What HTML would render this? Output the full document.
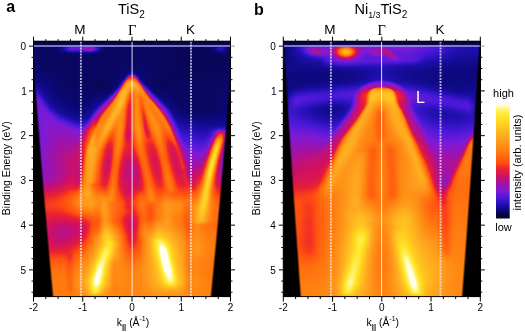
<!DOCTYPE html>
<html><head><meta charset="utf-8"><style>
html,body{margin:0;padding:0;background:#fff;width:525px;height:332px;overflow:hidden}
#c,svg{position:absolute;left:0;top:0}
text{font-family:"Liberation Sans",sans-serif;fill:#000}
</style></head><body>
<svg width="525" height="332" viewBox="0 0 525 332"><defs><linearGradient id="fa" x1="0" y1="0" x2="0" y2="1"><stop offset="0" stop-color="#000"/><stop offset="0.018" stop-color="#000"/><stop offset="0.02" stop-color="#0a0870"/><stop offset="0.25" stop-color="#0c0a78"/><stop offset="0.4" stop-color="#3a18c0"/><stop offset="0.5" stop-color="#9a1ab0"/><stop offset="0.6" stop-color="#e02a40"/><stop offset="0.7" stop-color="#ff6a14"/><stop offset="1" stop-color="#ff8c18"/></linearGradient><linearGradient id="fb" x1="0" y1="0" x2="0" y2="1"><stop offset="0" stop-color="#000"/><stop offset="0.018" stop-color="#000"/><stop offset="0.025" stop-color="#6a1ad8"/><stop offset="0.1" stop-color="#3a14c0"/><stop offset="0.2" stop-color="#100a80"/><stop offset="0.3" stop-color="#3a18c8"/><stop offset="0.45" stop-color="#b01a90"/><stop offset="0.55" stop-color="#ff5a14"/><stop offset="1" stop-color="#ff9a20"/></linearGradient></defs><rect x="33.5" y="41" width="197.0" height="255.6" fill="url(#fa)"/><rect x="283.3" y="41" width="197.0" height="255.6" fill="url(#fb)"/><polygon points="132,75 80,195 194,195" fill="#ff7a14" opacity="0.8"/><polygon points="381.6,86 308,195 443,195" fill="#ff8a18" opacity="0.85"/><polygon points="33.5,85 33.5,296.6 52.7,296.6" fill="#000"/><polygon points="230.5,70 230.5,296.6 210.5,296.6" fill="#000"/><polygon points="283.3,60 283.3,296.6 300.5,296.6" fill="#000"/><polygon points="480.3,60 480.3,296.6 462.5,296.6" fill="#000"/></svg>
<canvas id="c" width="525" height="332"></canvas>
<svg width="525" height="332" viewBox="0 0 525 332"><defs><linearGradient id="cb" x1="0" y1="0" x2="0" y2="1"><stop offset="0.000" stop-color="rgb(255, 255, 240)"/><stop offset="0.025" stop-color="rgb(255, 250, 175)"/><stop offset="0.054" stop-color="rgb(255, 242, 100)"/><stop offset="0.122" stop-color="rgb(255, 226, 34)"/><stop offset="0.218" stop-color="rgb(255, 194, 32)"/><stop offset="0.313" stop-color="rgb(255, 160, 30)"/><stop offset="0.407" stop-color="rgb(255, 128, 16)"/><stop offset="0.471" stop-color="rgb(255, 98, 16)"/><stop offset="0.515" stop-color="rgb(255, 78, 16)"/><stop offset="0.568" stop-color="rgb(234, 34, 48)"/><stop offset="0.631" stop-color="rgb(208, 16, 98)"/><stop offset="0.694" stop-color="rgb(162, 18, 164)"/><stop offset="0.757" stop-color="rgb(126, 26, 214)"/><stop offset="0.821" stop-color="rgb(72, 24, 216)"/><stop offset="0.884" stop-color="rgb(30, 14, 172)"/><stop offset="0.931" stop-color="rgb(10, 8, 120)"/><stop offset="0.978" stop-color="rgb(8, 4, 48)"/><stop offset="1.000" stop-color="rgb(6, 3, 30)"/></linearGradient></defs>
<line x1="33.5" y1="46.0" x2="230.5" y2="46.0" stroke="#a49cdc" stroke-width="1.6"/>
<line x1="132.10" y1="41.2" x2="132.10" y2="296.6" stroke="#fff" stroke-opacity="0.85" stroke-width="1"/>
<line x1="80.90" y1="41.4" x2="80.90" y2="296.6" stroke="#f4f0ff" stroke-opacity="0.72" stroke-width="1.9" stroke-dasharray="2 1.04"/>
<line x1="191.00" y1="41.4" x2="191.00" y2="296.6" stroke="#f4f0ff" stroke-opacity="0.72" stroke-width="1.9" stroke-dasharray="2 1.04"/>
<text x="79.80" y="34.2" text-anchor="middle" font-size="13.5">M</text>
<text x="132.10" y="34.8" text-anchor="middle" font-size="14.5" style="font-family:'Liberation Serif',serif">&#915;</text>
<text x="190.40" y="34.2" text-anchor="middle" font-size="13.5">K</text>
<line x1="283.3" y1="46.0" x2="480.3" y2="46.0" stroke="#a49cdc" stroke-width="1.6"/>
<line x1="381.60" y1="41.2" x2="381.60" y2="296.6" stroke="#fff" stroke-opacity="0.85" stroke-width="1"/>
<line x1="330.90" y1="41.4" x2="330.90" y2="296.6" stroke="#f4f0ff" stroke-opacity="0.72" stroke-width="1.9" stroke-dasharray="2 1.04"/>
<line x1="440.50" y1="41.4" x2="440.50" y2="296.6" stroke="#f4f0ff" stroke-opacity="0.72" stroke-width="1.9" stroke-dasharray="2 1.04"/>
<text x="329.80" y="34.2" text-anchor="middle" font-size="13.5">M</text>
<text x="381.60" y="34.8" text-anchor="middle" font-size="14.5" style="font-family:'Liberation Serif',serif">&#915;</text>
<text x="439.90" y="34.2" text-anchor="middle" font-size="13.5">K</text>
<rect x="33.5" y="41.2" width="197.00" height="255.40" fill="none" stroke="#000" stroke-width="1"/>
<line x1="33.50" y1="41.2" x2="33.50" y2="36.7" stroke="#000" stroke-width="1"/>
<line x1="33.50" y1="296.6" x2="33.50" y2="301.6" stroke="#000" stroke-width="1"/>
<line x1="45.81" y1="41.2" x2="45.81" y2="39.2" stroke="#000" stroke-width="1"/>
<line x1="45.81" y1="296.6" x2="45.81" y2="299.1" stroke="#000" stroke-width="1"/>
<line x1="58.12" y1="41.2" x2="58.12" y2="39.2" stroke="#000" stroke-width="1"/>
<line x1="58.12" y1="296.6" x2="58.12" y2="299.1" stroke="#000" stroke-width="1"/>
<line x1="70.44" y1="41.2" x2="70.44" y2="39.2" stroke="#000" stroke-width="1"/>
<line x1="70.44" y1="296.6" x2="70.44" y2="299.1" stroke="#000" stroke-width="1"/>
<line x1="82.75" y1="41.2" x2="82.75" y2="36.7" stroke="#000" stroke-width="1"/>
<line x1="82.75" y1="296.6" x2="82.75" y2="301.6" stroke="#000" stroke-width="1"/>
<line x1="95.06" y1="41.2" x2="95.06" y2="39.2" stroke="#000" stroke-width="1"/>
<line x1="95.06" y1="296.6" x2="95.06" y2="299.1" stroke="#000" stroke-width="1"/>
<line x1="107.38" y1="41.2" x2="107.38" y2="39.2" stroke="#000" stroke-width="1"/>
<line x1="107.38" y1="296.6" x2="107.38" y2="299.1" stroke="#000" stroke-width="1"/>
<line x1="119.69" y1="41.2" x2="119.69" y2="39.2" stroke="#000" stroke-width="1"/>
<line x1="119.69" y1="296.6" x2="119.69" y2="299.1" stroke="#000" stroke-width="1"/>
<line x1="132.00" y1="41.2" x2="132.00" y2="36.7" stroke="#000" stroke-width="1"/>
<line x1="132.00" y1="296.6" x2="132.00" y2="301.6" stroke="#000" stroke-width="1"/>
<line x1="144.31" y1="41.2" x2="144.31" y2="39.2" stroke="#000" stroke-width="1"/>
<line x1="144.31" y1="296.6" x2="144.31" y2="299.1" stroke="#000" stroke-width="1"/>
<line x1="156.62" y1="41.2" x2="156.62" y2="39.2" stroke="#000" stroke-width="1"/>
<line x1="156.62" y1="296.6" x2="156.62" y2="299.1" stroke="#000" stroke-width="1"/>
<line x1="168.94" y1="41.2" x2="168.94" y2="39.2" stroke="#000" stroke-width="1"/>
<line x1="168.94" y1="296.6" x2="168.94" y2="299.1" stroke="#000" stroke-width="1"/>
<line x1="181.25" y1="41.2" x2="181.25" y2="36.7" stroke="#000" stroke-width="1"/>
<line x1="181.25" y1="296.6" x2="181.25" y2="301.6" stroke="#000" stroke-width="1"/>
<line x1="193.56" y1="41.2" x2="193.56" y2="39.2" stroke="#000" stroke-width="1"/>
<line x1="193.56" y1="296.6" x2="193.56" y2="299.1" stroke="#000" stroke-width="1"/>
<line x1="205.88" y1="41.2" x2="205.88" y2="39.2" stroke="#000" stroke-width="1"/>
<line x1="205.88" y1="296.6" x2="205.88" y2="299.1" stroke="#000" stroke-width="1"/>
<line x1="218.19" y1="41.2" x2="218.19" y2="39.2" stroke="#000" stroke-width="1"/>
<line x1="218.19" y1="296.6" x2="218.19" y2="299.1" stroke="#000" stroke-width="1"/>
<line x1="230.50" y1="41.2" x2="230.50" y2="36.7" stroke="#000" stroke-width="1"/>
<line x1="230.50" y1="296.6" x2="230.50" y2="301.6" stroke="#000" stroke-width="1"/>
<line x1="33.5" y1="46.15" x2="29.0" y2="46.15" stroke="#000" stroke-width="1"/>
<line x1="230.5" y1="46.15" x2="235.0" y2="46.15" stroke="#999" stroke-width="1"/>
<line x1="33.5" y1="57.34" x2="31.5" y2="57.34" stroke="#000" stroke-width="1"/>
<line x1="230.5" y1="57.34" x2="232.5" y2="57.34" stroke="#000" stroke-width="1"/>
<line x1="33.5" y1="68.53" x2="31.5" y2="68.53" stroke="#000" stroke-width="1"/>
<line x1="230.5" y1="68.53" x2="232.5" y2="68.53" stroke="#000" stroke-width="1"/>
<line x1="33.5" y1="79.71" x2="31.5" y2="79.71" stroke="#000" stroke-width="1"/>
<line x1="230.5" y1="79.71" x2="232.5" y2="79.71" stroke="#000" stroke-width="1"/>
<line x1="33.5" y1="90.90" x2="29.0" y2="90.90" stroke="#000" stroke-width="1"/>
<line x1="230.5" y1="90.90" x2="235.0" y2="90.90" stroke="#000" stroke-width="1"/>
<line x1="33.5" y1="102.09" x2="31.5" y2="102.09" stroke="#000" stroke-width="1"/>
<line x1="230.5" y1="102.09" x2="232.5" y2="102.09" stroke="#000" stroke-width="1"/>
<line x1="33.5" y1="113.28" x2="31.5" y2="113.28" stroke="#000" stroke-width="1"/>
<line x1="230.5" y1="113.28" x2="232.5" y2="113.28" stroke="#000" stroke-width="1"/>
<line x1="33.5" y1="124.46" x2="31.5" y2="124.46" stroke="#000" stroke-width="1"/>
<line x1="230.5" y1="124.46" x2="232.5" y2="124.46" stroke="#000" stroke-width="1"/>
<line x1="33.5" y1="135.65" x2="29.0" y2="135.65" stroke="#000" stroke-width="1"/>
<line x1="230.5" y1="135.65" x2="235.0" y2="135.65" stroke="#000" stroke-width="1"/>
<line x1="33.5" y1="146.84" x2="31.5" y2="146.84" stroke="#000" stroke-width="1"/>
<line x1="230.5" y1="146.84" x2="232.5" y2="146.84" stroke="#000" stroke-width="1"/>
<line x1="33.5" y1="158.03" x2="31.5" y2="158.03" stroke="#000" stroke-width="1"/>
<line x1="230.5" y1="158.03" x2="232.5" y2="158.03" stroke="#000" stroke-width="1"/>
<line x1="33.5" y1="169.21" x2="31.5" y2="169.21" stroke="#000" stroke-width="1"/>
<line x1="230.5" y1="169.21" x2="232.5" y2="169.21" stroke="#000" stroke-width="1"/>
<line x1="33.5" y1="180.40" x2="29.0" y2="180.40" stroke="#000" stroke-width="1"/>
<line x1="230.5" y1="180.40" x2="235.0" y2="180.40" stroke="#000" stroke-width="1"/>
<line x1="33.5" y1="191.59" x2="31.5" y2="191.59" stroke="#000" stroke-width="1"/>
<line x1="230.5" y1="191.59" x2="232.5" y2="191.59" stroke="#000" stroke-width="1"/>
<line x1="33.5" y1="202.78" x2="31.5" y2="202.78" stroke="#000" stroke-width="1"/>
<line x1="230.5" y1="202.78" x2="232.5" y2="202.78" stroke="#000" stroke-width="1"/>
<line x1="33.5" y1="213.96" x2="31.5" y2="213.96" stroke="#000" stroke-width="1"/>
<line x1="230.5" y1="213.96" x2="232.5" y2="213.96" stroke="#000" stroke-width="1"/>
<line x1="33.5" y1="225.15" x2="29.0" y2="225.15" stroke="#000" stroke-width="1"/>
<line x1="230.5" y1="225.15" x2="235.0" y2="225.15" stroke="#000" stroke-width="1"/>
<line x1="33.5" y1="236.34" x2="31.5" y2="236.34" stroke="#000" stroke-width="1"/>
<line x1="230.5" y1="236.34" x2="232.5" y2="236.34" stroke="#000" stroke-width="1"/>
<line x1="33.5" y1="247.53" x2="31.5" y2="247.53" stroke="#000" stroke-width="1"/>
<line x1="230.5" y1="247.53" x2="232.5" y2="247.53" stroke="#000" stroke-width="1"/>
<line x1="33.5" y1="258.71" x2="31.5" y2="258.71" stroke="#000" stroke-width="1"/>
<line x1="230.5" y1="258.71" x2="232.5" y2="258.71" stroke="#000" stroke-width="1"/>
<line x1="33.5" y1="269.90" x2="29.0" y2="269.90" stroke="#000" stroke-width="1"/>
<line x1="230.5" y1="269.90" x2="235.0" y2="269.90" stroke="#000" stroke-width="1"/>
<line x1="33.5" y1="281.09" x2="31.5" y2="281.09" stroke="#000" stroke-width="1"/>
<line x1="230.5" y1="281.09" x2="232.5" y2="281.09" stroke="#000" stroke-width="1"/>
<line x1="33.5" y1="292.27" x2="31.5" y2="292.27" stroke="#000" stroke-width="1"/>
<line x1="230.5" y1="292.27" x2="232.5" y2="292.27" stroke="#000" stroke-width="1"/>
<rect x="283.3" y="41.2" width="197.00" height="255.40" fill="none" stroke="#000" stroke-width="1"/>
<line x1="283.30" y1="41.2" x2="283.30" y2="36.7" stroke="#000" stroke-width="1"/>
<line x1="283.30" y1="296.6" x2="283.30" y2="301.6" stroke="#000" stroke-width="1"/>
<line x1="295.61" y1="41.2" x2="295.61" y2="39.2" stroke="#000" stroke-width="1"/>
<line x1="295.61" y1="296.6" x2="295.61" y2="299.1" stroke="#000" stroke-width="1"/>
<line x1="307.93" y1="41.2" x2="307.93" y2="39.2" stroke="#000" stroke-width="1"/>
<line x1="307.93" y1="296.6" x2="307.93" y2="299.1" stroke="#000" stroke-width="1"/>
<line x1="320.24" y1="41.2" x2="320.24" y2="39.2" stroke="#000" stroke-width="1"/>
<line x1="320.24" y1="296.6" x2="320.24" y2="299.1" stroke="#000" stroke-width="1"/>
<line x1="332.55" y1="41.2" x2="332.55" y2="36.7" stroke="#000" stroke-width="1"/>
<line x1="332.55" y1="296.6" x2="332.55" y2="301.6" stroke="#000" stroke-width="1"/>
<line x1="344.86" y1="41.2" x2="344.86" y2="39.2" stroke="#000" stroke-width="1"/>
<line x1="344.86" y1="296.6" x2="344.86" y2="299.1" stroke="#000" stroke-width="1"/>
<line x1="357.18" y1="41.2" x2="357.18" y2="39.2" stroke="#000" stroke-width="1"/>
<line x1="357.18" y1="296.6" x2="357.18" y2="299.1" stroke="#000" stroke-width="1"/>
<line x1="369.49" y1="41.2" x2="369.49" y2="39.2" stroke="#000" stroke-width="1"/>
<line x1="369.49" y1="296.6" x2="369.49" y2="299.1" stroke="#000" stroke-width="1"/>
<line x1="381.80" y1="41.2" x2="381.80" y2="36.7" stroke="#000" stroke-width="1"/>
<line x1="381.80" y1="296.6" x2="381.80" y2="301.6" stroke="#000" stroke-width="1"/>
<line x1="394.11" y1="41.2" x2="394.11" y2="39.2" stroke="#000" stroke-width="1"/>
<line x1="394.11" y1="296.6" x2="394.11" y2="299.1" stroke="#000" stroke-width="1"/>
<line x1="406.43" y1="41.2" x2="406.43" y2="39.2" stroke="#000" stroke-width="1"/>
<line x1="406.43" y1="296.6" x2="406.43" y2="299.1" stroke="#000" stroke-width="1"/>
<line x1="418.74" y1="41.2" x2="418.74" y2="39.2" stroke="#000" stroke-width="1"/>
<line x1="418.74" y1="296.6" x2="418.74" y2="299.1" stroke="#000" stroke-width="1"/>
<line x1="431.05" y1="41.2" x2="431.05" y2="36.7" stroke="#000" stroke-width="1"/>
<line x1="431.05" y1="296.6" x2="431.05" y2="301.6" stroke="#000" stroke-width="1"/>
<line x1="443.36" y1="41.2" x2="443.36" y2="39.2" stroke="#000" stroke-width="1"/>
<line x1="443.36" y1="296.6" x2="443.36" y2="299.1" stroke="#000" stroke-width="1"/>
<line x1="455.68" y1="41.2" x2="455.68" y2="39.2" stroke="#000" stroke-width="1"/>
<line x1="455.68" y1="296.6" x2="455.68" y2="299.1" stroke="#000" stroke-width="1"/>
<line x1="467.99" y1="41.2" x2="467.99" y2="39.2" stroke="#000" stroke-width="1"/>
<line x1="467.99" y1="296.6" x2="467.99" y2="299.1" stroke="#000" stroke-width="1"/>
<line x1="480.30" y1="41.2" x2="480.30" y2="36.7" stroke="#000" stroke-width="1"/>
<line x1="480.30" y1="296.6" x2="480.30" y2="301.6" stroke="#000" stroke-width="1"/>
<line x1="283.3" y1="46.15" x2="278.8" y2="46.15" stroke="#000" stroke-width="1"/>
<line x1="480.3" y1="46.15" x2="484.8" y2="46.15" stroke="#999" stroke-width="1"/>
<line x1="283.3" y1="57.34" x2="281.3" y2="57.34" stroke="#000" stroke-width="1"/>
<line x1="480.3" y1="57.34" x2="482.3" y2="57.34" stroke="#000" stroke-width="1"/>
<line x1="283.3" y1="68.53" x2="281.3" y2="68.53" stroke="#000" stroke-width="1"/>
<line x1="480.3" y1="68.53" x2="482.3" y2="68.53" stroke="#000" stroke-width="1"/>
<line x1="283.3" y1="79.71" x2="281.3" y2="79.71" stroke="#000" stroke-width="1"/>
<line x1="480.3" y1="79.71" x2="482.3" y2="79.71" stroke="#000" stroke-width="1"/>
<line x1="283.3" y1="90.90" x2="278.8" y2="90.90" stroke="#000" stroke-width="1"/>
<line x1="480.3" y1="90.90" x2="484.8" y2="90.90" stroke="#000" stroke-width="1"/>
<line x1="283.3" y1="102.09" x2="281.3" y2="102.09" stroke="#000" stroke-width="1"/>
<line x1="480.3" y1="102.09" x2="482.3" y2="102.09" stroke="#000" stroke-width="1"/>
<line x1="283.3" y1="113.28" x2="281.3" y2="113.28" stroke="#000" stroke-width="1"/>
<line x1="480.3" y1="113.28" x2="482.3" y2="113.28" stroke="#000" stroke-width="1"/>
<line x1="283.3" y1="124.46" x2="281.3" y2="124.46" stroke="#000" stroke-width="1"/>
<line x1="480.3" y1="124.46" x2="482.3" y2="124.46" stroke="#000" stroke-width="1"/>
<line x1="283.3" y1="135.65" x2="278.8" y2="135.65" stroke="#000" stroke-width="1"/>
<line x1="480.3" y1="135.65" x2="484.8" y2="135.65" stroke="#000" stroke-width="1"/>
<line x1="283.3" y1="146.84" x2="281.3" y2="146.84" stroke="#000" stroke-width="1"/>
<line x1="480.3" y1="146.84" x2="482.3" y2="146.84" stroke="#000" stroke-width="1"/>
<line x1="283.3" y1="158.03" x2="281.3" y2="158.03" stroke="#000" stroke-width="1"/>
<line x1="480.3" y1="158.03" x2="482.3" y2="158.03" stroke="#000" stroke-width="1"/>
<line x1="283.3" y1="169.21" x2="281.3" y2="169.21" stroke="#000" stroke-width="1"/>
<line x1="480.3" y1="169.21" x2="482.3" y2="169.21" stroke="#000" stroke-width="1"/>
<line x1="283.3" y1="180.40" x2="278.8" y2="180.40" stroke="#000" stroke-width="1"/>
<line x1="480.3" y1="180.40" x2="484.8" y2="180.40" stroke="#000" stroke-width="1"/>
<line x1="283.3" y1="191.59" x2="281.3" y2="191.59" stroke="#000" stroke-width="1"/>
<line x1="480.3" y1="191.59" x2="482.3" y2="191.59" stroke="#000" stroke-width="1"/>
<line x1="283.3" y1="202.78" x2="281.3" y2="202.78" stroke="#000" stroke-width="1"/>
<line x1="480.3" y1="202.78" x2="482.3" y2="202.78" stroke="#000" stroke-width="1"/>
<line x1="283.3" y1="213.96" x2="281.3" y2="213.96" stroke="#000" stroke-width="1"/>
<line x1="480.3" y1="213.96" x2="482.3" y2="213.96" stroke="#000" stroke-width="1"/>
<line x1="283.3" y1="225.15" x2="278.8" y2="225.15" stroke="#000" stroke-width="1"/>
<line x1="480.3" y1="225.15" x2="484.8" y2="225.15" stroke="#000" stroke-width="1"/>
<line x1="283.3" y1="236.34" x2="281.3" y2="236.34" stroke="#000" stroke-width="1"/>
<line x1="480.3" y1="236.34" x2="482.3" y2="236.34" stroke="#000" stroke-width="1"/>
<line x1="283.3" y1="247.53" x2="281.3" y2="247.53" stroke="#000" stroke-width="1"/>
<line x1="480.3" y1="247.53" x2="482.3" y2="247.53" stroke="#000" stroke-width="1"/>
<line x1="283.3" y1="258.71" x2="281.3" y2="258.71" stroke="#000" stroke-width="1"/>
<line x1="480.3" y1="258.71" x2="482.3" y2="258.71" stroke="#000" stroke-width="1"/>
<line x1="283.3" y1="269.90" x2="278.8" y2="269.90" stroke="#000" stroke-width="1"/>
<line x1="480.3" y1="269.90" x2="484.8" y2="269.90" stroke="#000" stroke-width="1"/>
<line x1="283.3" y1="281.09" x2="281.3" y2="281.09" stroke="#000" stroke-width="1"/>
<line x1="480.3" y1="281.09" x2="482.3" y2="281.09" stroke="#000" stroke-width="1"/>
<line x1="283.3" y1="292.27" x2="281.3" y2="292.27" stroke="#000" stroke-width="1"/>
<line x1="480.3" y1="292.27" x2="482.3" y2="292.27" stroke="#000" stroke-width="1"/>
<text x="33.50" y="310.5" text-anchor="middle" font-size="10">-2</text>
<text x="82.75" y="310.5" text-anchor="middle" font-size="10">-1</text>
<text x="132.00" y="310.5" text-anchor="middle" font-size="10">0</text>
<text x="181.25" y="310.5" text-anchor="middle" font-size="10">1</text>
<text x="230.50" y="310.5" text-anchor="middle" font-size="10">2</text>
<text x="26.0" y="49.75" text-anchor="end" font-size="10">0</text>
<text x="26.8" y="94.50" text-anchor="end" font-size="10">1</text>
<text x="26.0" y="139.25" text-anchor="end" font-size="10">2</text>
<text x="26.0" y="184.00" text-anchor="end" font-size="10">3</text>
<text x="26.0" y="228.75" text-anchor="end" font-size="10">4</text>
<text x="26.0" y="273.50" text-anchor="end" font-size="10">5</text>
<text x="283.30" y="310.5" text-anchor="middle" font-size="10">-2</text>
<text x="332.55" y="310.5" text-anchor="middle" font-size="10">-1</text>
<text x="381.80" y="310.5" text-anchor="middle" font-size="10">0</text>
<text x="431.05" y="310.5" text-anchor="middle" font-size="10">1</text>
<text x="480.30" y="310.5" text-anchor="middle" font-size="10">2</text>
<text x="275.8" y="49.75" text-anchor="end" font-size="10">0</text>
<text x="276.6" y="94.50" text-anchor="end" font-size="10">1</text>
<text x="275.8" y="139.25" text-anchor="end" font-size="10">2</text>
<text x="275.8" y="184.00" text-anchor="end" font-size="10">3</text>
<text x="275.8" y="228.75" text-anchor="end" font-size="10">4</text>
<text x="275.8" y="273.50" text-anchor="end" font-size="10">5</text>
<text x="6.2" y="11.8" font-size="16" font-weight="bold">a</text>
<text x="254" y="15.2" font-size="16" font-weight="bold">b</text>
<text x="118" y="14.2" font-size="14.5">TiS<tspan font-size="10" dy="4">2</tspan></text>
<text x="420.5" y="102.6" text-anchor="middle" font-size="16" style="fill:#fff">L</text>
<text x="354.5" y="14.2" font-size="14.5">Ni<tspan font-size="8.8" dy="4">1/3</tspan><tspan dy="-4">TiS</tspan><tspan font-size="10" dy="4">2</tspan></text>
<text transform="translate(10.3,168.2) rotate(-90)" text-anchor="middle" font-size="10.5">Binding Energy (eV)</text>
<text transform="translate(260.1,168.2) rotate(-90)" text-anchor="middle" font-size="10.5">Binding Energy (eV)</text>
<text x="116.80" y="326" font-size="10.4">k<tspan font-size="7.6" dy="3" font-weight="bold">||</tspan><tspan dy="-3"> (&#197;</tspan><tspan font-size="7" dy="-5">-1</tspan><tspan dy="5">)</tspan></text>
<text x="366.60" y="326" font-size="10.4">k<tspan font-size="7.6" dy="3" font-weight="bold">||</tspan><tspan dy="-3"> (&#197;</tspan><tspan font-size="7" dy="-5">-1</tspan><tspan dy="5">)</tspan></text>
<rect x="496" y="104" width="13.7" height="114.5" fill="url(#cb)"/>
<text x="503.5" y="97" text-anchor="middle" font-size="11">high</text>
<text x="503.5" y="230.5" text-anchor="middle" font-size="11">low</text>
<text transform="translate(521,162.5) rotate(-90)" text-anchor="middle" font-size="11">intensity (arb. units)</text>
</svg>
<script>
var CM = [[0.0, [6, 3, 30]], [0.022, [8, 4, 48]], [0.069, [10, 8, 120]], [0.116, [30, 14, 172]], [0.179, [72, 24, 216]], [0.243, [126, 26, 214]], [0.306, [162, 18, 164]], [0.369, [208, 16, 98]], [0.432, [234, 34, 48]], [0.485, [255, 78, 16]], [0.529, [255, 98, 16]], [0.593, [255, 128, 16]], [0.687, [255, 160, 30]], [0.782, [255, 194, 32]], [0.878, [255, 226, 34]], [0.946, [255, 242, 100]], [0.975, [255, 250, 175]], [1.0, [255, 255, 240]]];
function cmap(t){
  if(t<=0) return CM[0][1]; if(t>=1) return CM[CM.length-1][1];
  for(var i=1;i<CM.length;i++){ if(t<=CM[i][0]){ var a=CM[i-1],b=CM[i],f=(t-a[0])/(b[0]-a[0]);
    return [a[1][0]+(b[1][0]-a[1][0])*f, a[1][1]+(b[1][1]-a[1][1])*f, a[1][2]+(b[1][2]-a[1][2])*f]; } }
}
var P = [{"x0": 33.5, "x1": 230.5, "grid": [[0.055, 0.055, 0.055, 0.055, 0.055, 0.055, 0.05, 0.05, 0.05], [0.06, 0.055, 0.055, 0.055, 0.06, 0.055, 0.05, 0.05, 0.05], [0.1, 0.065, 0.055, 0.06, 0.1, 0.06, 0.055, 0.055, 0.06], [0.14, 0.1, 0.08, 0.16, 0.2, 0.15, 0.07, 0.06, 0.07], [0.18, 0.18, 0.17, 0.26, 0.3, 0.28, 0.18, 0.13, 0.13], [0.24, 0.27, 0.3, 0.34, 0.36, 0.36, 0.3, 0.24, 0.2], [0.28, 0.32, 0.4, 0.4, 0.38, 0.4, 0.42, 0.35, 0.3], [0.45, 0.48, 0.55, 0.56, 0.5, 0.56, 0.56, 0.53, 0.5], [0.42, 0.43, 0.47, 0.56, 0.48, 0.58, 0.57, 0.56, 0.52], [0.45, 0.45, 0.52, 0.6, 0.5, 0.62, 0.62, 0.6, 0.55], [0.55, 0.56, 0.58, 0.6, 0.58, 0.62, 0.6, 0.58, 0.55], [0.58, 0.58, 0.6, 0.62, 0.6, 0.64, 0.62, 0.6, 0.58]], "lams": [{"L": [[132, 71], [126, 80], [119, 89], [112, 96], [104, 104], [97, 111], [90, 122], [84, 134], [79, 147], [76, 160], [74, 175], [72, 190]], "R": [[132, 71], [138, 80], [147, 89], [154, 96], [162, 104], [168, 111], [174, 122], [179, 134], [184, 147], [188, 160], [192, 175], [195, 190]], "s": 4.5, "bot": [175, 200], "tv": [[70, 0.1], [76, 0.2], [90, 0.25], [120, 0.27], [150, 0.31], [190, 0.34]]}, {"L": [[132, 74.5], [129.5, 75.5], [127.5, 77.5], [125.5, 81], [122.5, 86], [119, 92], [115.5, 98], [111, 104], [106, 110], [101, 117], [97, 125], [92, 137], [87, 150], [84, 165], [82, 180], [80, 195]], "R": [[132, 74.5], [134.5, 75.5], [136.5, 77.5], [138.5, 81], [141.5, 86], [145, 92], [149.5, 98], [155, 104], [160, 110], [165.5, 118], [171, 128], [176, 140], [180, 150], [183, 160], [186.5, 172], [190, 185], [194, 195]], "s": 2.5, "bot": [195, 215], "tv": [[75, 0.38], [80, 0.48], [90, 0.53], [128, 0.52], [145, 0.46], [185, 0.46], [195, 0.5], [205, 0.56]]}], "blobs": [[72.5, 48.7, 6, 2.2, 0, 0.16], [89, 48.7, 6, 2.2, 0, 0.25], [220.6, 48.7, 4, 2.5, 0, 0.08], [88, 200, 9, 9, 0, 0.14], [178, 205, 9, 7, 0, 0.07], [67, 234, 16, 14, 0, -0.1], [84, 232, 6, 10, 0, -0.05], [132, 232, 8, 15, 0, -0.15], [108.5, 165, 4, 16, 0.1, -0.1], [131.5, 172, 11, 17, 0, -0.12], [158.5, 160, 5, 16, -0.15, -0.1], [177, 158, 6, 20, -0.15, -0.1], [83, 165, 5, 15, 0, -0.05]], "bands": [{"h": 1, "p": [[33, 93], [40, 103], [50, 117], [60, 125], [72, 131], [81, 134], [90, 131], [97, 124]], "w": 26, "wu": 6, "a": 0.11, "tp": 4}, {"p": [[124, 86], [118, 94], [111, 103], [105, 110], [99, 120], [94, 132], [90, 145], [88, 158], [87, 172], [87, 185], [87, 200]], "w": 4, "ap": [[86, 0.0], [100, 0.06], [120, 0.1], [150, 0.16], [185, 0.16], [200, 0.08]], "tp": 6}, {"p": [[131, 78], [127.5, 85], [123.5, 95], [119, 105], [114, 115], [108, 127], [102, 139], [97, 150], [94, 165], [92, 185]], "w": 3.8, "ap": [[78, 0.1], [92, 0.2], [127, 0.22], [150, 0.18], [185, 0.1]], "tp": 4}, {"p": [[131.5, 80], [128.5, 90], [126, 100], [124, 105], [121, 125], [118, 148], [114.5, 170], [112, 193], [111, 205]], "w": 3.4, "ap": [[80, 0.05], [110, 0.08], [145, 0.16], [190, 0.14], [205, 0.04]], "tp": 5}, {"p": [[131.5, 84], [130.5, 95], [129, 110], [128, 130], [128, 145]], "w": 3.2, "a": -0.14, "tp": 10}, {"p": [[132.5, 78], [134.5, 88], [136, 100], [137, 115], [137.5, 125], [140, 148], [145.5, 170], [150.5, 193], [152, 205]], "w": 3.4, "ap": [[78, 0.08], [110, 0.1], [140, 0.15], [170, 0.14], [193, 0.12], [205, 0.04]], "tp": 5}, {"p": [[137, 90], [141, 100], [144, 115], [146, 128], [149, 140]], "w": 2.2, "a": -0.12, "tp": 8}, {"p": [[133, 80], [138, 90], [143, 102], [149, 113], [155.5, 125], [160, 145], [163, 159], [166.5, 172], [169.7, 185], [171, 195]], "w": 3.8, "ap": [[80, 0.08], [110, 0.1], [145, 0.17], [185, 0.14], [195, 0.06]], "tp": 5}, {"p": [[134, 82], [144, 92], [154, 105], [162, 116], [167, 125], [173, 137], [178.7, 148], [182, 160], [185, 172]], "w": 3, "ap": [[82, 0.05], [110, 0.08], [145, 0.1], [172, 0.06]], "tp": 4}, {"p": [[221.5, 129], [220.5, 135], [218.5, 142], [216, 150], [213, 160], [210.5, 170], [208, 182], [205.5, 195], [203, 210], [201, 225]], "w": 3.4, "ap": [[129, 0.05], [134, 0.25], [140, 0.45], [148, 0.56], [170, 0.5], [190, 0.3], [210, 0.14], [225, 0.04]], "tp": 2}, {"p": [[222, 124], [220.5, 135], [218.5, 142], [216, 150], [213, 160], [210.5, 170], [208, 182], [205.5, 195], [203, 210], [201, 225]], "w": 7, "ap": [[124, 0.0], [132, 0.08], [140, 0.12], [225, 0.1]], "tp": 4}, {"p": [[103, 190], [104, 210], [106, 230], [108.7, 245]], "w": 4, "a": 0.1, "tp": 8}, {"p": [[109, 238], [108.7, 245], [105, 255], [101, 265], [97.5, 278], [94.3, 297]], "w": 4.8, "ap": [[238, 0.07], [250, 0.17], [275, 0.26], [297, 0.22]], "tp": 4}, {"p": [[111, 222], [108.7, 245], [105, 255], [101, 265], [97.5, 278], [94.3, 297]], "w": 13, "a": 0.16, "tp": 14}, {"p": [[158, 235], [162.6, 248.6], [166, 263], [169.8, 277.6], [172, 290]], "w": 5, "ap": [[235, 0.08], [250, 0.22], [270, 0.25], [290, 0.1]], "tp": 6}, {"p": [[154, 218], [162.6, 248.6], [166, 263], [169.8, 277.6], [173, 297]], "w": 14, "a": 0.18, "tp": 16}, {"p": [[100, 195], [99, 220], [98, 240]], "w": 2.5, "a": -0.05, "tp": 8}, {"p": [[128, 185], [128, 200], [129, 212]], "w": 4, "a": -0.06, "tp": 6}, {"p": [[141, 190], [142, 215], [143, 240]], "w": 3, "a": 0.05, "tp": 8}, {"p": [[165, 190], [167, 210], [168, 230]], "w": 4, "a": 0.06, "tp": 8}, {"p": [[197, 200], [197, 230], [198, 260]], "w": 4, "a": 0.04, "tp": 8}, {"p": [[70, 250], [70, 275], [71, 297]], "w": 3, "a": -0.06, "tp": 8}, {"p": [[114, 255], [114, 297]], "w": 3, "a": -0.06, "tp": 8}, {"p": [[151, 200], [151, 240]], "w": 3, "a": -0.06, "tp": 8}, {"p": [[187, 200], [188, 240], [189, 297]], "w": 3, "a": -0.07, "tp": 8}], "wl": [4.13, 0.276], "wr": [4.204, 0.29]}, {"x0": 283.3, "x1": 480.3, "grid": [[0.07, 0.16, 0.23, 0.24, 0.24, 0.25, 0.2, 0.13, 0.12], [0.08, 0.085, 0.09, 0.1, 0.12, 0.1, 0.09, 0.08, 0.08], [0.08, 0.08, 0.08, 0.1, 0.15, 0.12, 0.09, 0.08, 0.09], [0.17, 0.12, 0.09, 0.16, 0.25, 0.2, 0.12, 0.1, 0.12], [0.24, 0.24, 0.22, 0.3, 0.3, 0.3, 0.22, 0.2, 0.24], [0.31, 0.34, 0.35, 0.36, 0.36, 0.36, 0.31, 0.31, 0.38], [0.38, 0.4, 0.42, 0.5, 0.5, 0.5, 0.33, 0.36, 0.48], [0.49, 0.5, 0.56, 0.66, 0.56, 0.66, 0.48, 0.54, 0.58], [0.5, 0.5, 0.58, 0.7, 0.55, 0.7, 0.58, 0.58, 0.58], [0.5, 0.5, 0.6, 0.72, 0.55, 0.72, 0.68, 0.6, 0.6], [0.56, 0.56, 0.6, 0.72, 0.57, 0.72, 0.72, 0.62, 0.6], [0.6, 0.6, 0.62, 0.72, 0.6, 0.72, 0.7, 0.62, 0.6]], "lams": [{"L": [[381.6, 79], [372, 82], [364, 86], [359, 92], [356, 100], [353, 108], [348, 116], [341, 126], [333, 137], [325, 148], [317, 160], [309, 173], [303, 188]], "R": [[381.6, 79], [391, 82], [399, 86], [404, 92], [407, 100], [410, 108], [414, 116], [419, 126], [424, 137], [428, 148], [433, 160], [438, 173], [443, 188]], "s": 5, "bot": [165, 195], "tv": [[79, 0.14], [84, 0.24], [95, 0.3], [130, 0.32], [160, 0.36], [190, 0.4]]}, {"L": [[381.6, 87], [376, 87.5], [372, 89], [369.5, 92], [368.5, 96], [368, 102], [366, 107], [363.5, 111], [358, 120], [350, 130], [343, 139], [338, 149], [334, 160], [330, 171], [326, 183], [320, 196]], "R": [[381.6, 87], [387, 87.5], [391, 89], [394, 92], [395, 96], [396.5, 102], [399, 107], [401.5, 111], [405.5, 120], [410, 132], [414, 142], [418, 153], [423, 165], [428, 177], [433, 189], [437, 200]], "s": 2.6, "st": [[87, 2.6], [110, 2.6], [140, 4.5], [190, 8]], "bot": [185, 215], "tv": [[86, 0.44], [90, 0.58], [100, 0.6], [130, 0.6], [170, 0.6], [200, 0.6]]}, {"L": [[473, 134], [469, 143], [464, 155], [458, 168], [452, 181], [446, 195], [441, 208], [437, 222]], "R": [[481, 134], [481, 222]], "s": 3.5, "st": [[134, 2.5], [160, 4], [220, 7]], "bot": [210, 235], "tv": [[134, 0.38], [142, 0.52], [170, 0.56], [200, 0.56], [225, 0.58]]}], "blobs": [[345.9, 52.0, 6, 3.6, 0, 0.42], [345.9, 52.8, 10, 5.5, 0, 0.15], [315.4, 51.4, 7, 2.8, 0.15, 0.17], [376.3, 52.4, 4.5, 2.5, 0, 0.1], [388.5, 53.3, 6, 2.0, 0.6, 0.15], [446, 186, 7, 7, 0, -0.06], [361, 238, 6, 6, 0, 0.08], [350, 185, 10, 20, 0, 0.06], [413, 185, 10, 20, 0, 0.06]], "bands": [{"h": 1, "p": [[286, 102], [300, 99], [320, 97], [340, 95], [360, 94], [400, 95], [420, 97], [440, 100], [460, 104], [478, 107]], "w": 6, "a": 0.1, "tp": 10}, {"h": 1, "p": [[320, 60], [335, 62], [350, 63], [365, 62], [380, 61], [395, 60], [410, 60], [425, 59]], "w": 3, "a": 0.05, "tp": 10}, {"p": [[376, 88], [372.4, 95], [366, 110], [358, 126], [351, 142.6], [343, 156], [334, 170], [327, 185], [322, 200]], "w": 6, "ap": [[88, 0.06], [100, 0.12], [150, 0.12], [185, 0.08], [200, 0.0]], "tp": 4}, {"p": [[387, 88], [389, 95], [394, 110], [398.6, 123.6], [404, 135], [410.5, 142.6], [418, 160], [424, 180], [428, 200]], "w": 6, "ap": [[88, 0.06], [100, 0.12], [150, 0.12], [180, 0.08], [200, 0.0]], "tp": 4}, {"p": [[362, 150], [358, 170], [356, 190], [355, 210]], "w": 5, "a": 0.06, "tp": 8}, {"p": [[380, 105], [380, 125], [380, 145]], "w": 4, "a": -0.08, "tp": 8}, {"p": [[374, 140], [372, 160], [371, 180], [371, 205]], "w": 4.5, "a": -0.08, "tp": 10}, {"p": [[389, 140], [391, 160], [392.5, 180], [393, 205]], "w": 4.5, "a": -0.08, "tp": 10}, {"p": [[472, 138], [469, 150], [466, 165], [463, 180]], "w": 3, "ap": [[138, 0.04], [150, 0.06], [180, 0.0]], "tp": 4}, {"p": [[310, 195], [310, 225], [311, 265]], "w": 6, "a": -0.05, "tp": 12}, {"p": [[445, 190], [445, 225], [446, 262]], "w": 4, "a": -0.1, "tp": 12}, {"p": [[366, 225], [363, 240], [358, 255], [353, 270], [349.5, 283], [345.9, 297]], "w": 5, "ap": [[225, 0.02], [245, 0.06], [270, 0.12], [285, 0.18], [297, 0.18]], "tp": 4}, {"p": [[370, 205], [363, 240], [358, 255], [353, 270], [349.5, 283], [345.9, 297]], "w": 11, "a": 0.1, "tp": 14}, {"p": [[397, 228], [400, 240], [404, 253], [408, 266], [413, 282], [417.2, 297]], "w": 5, "ap": [[228, 0.02], [245, 0.08], [260, 0.16], [290, 0.2], [297, 0.18]], "tp": 4}, {"p": [[393, 205], [400, 240], [404, 253], [408, 266], [413, 282], [417.2, 297]], "w": 11, "a": 0.1, "tp": 14}], "wl": [3.959, 0.221], "wr": [3.942, 0.226]}];
var cv=document.getElementById('c'), ctx=cv.getContext('2d');
var img=ctx.createImageData(525,332), D=img.data;
function cr(p0,p1,p2,p3,t){ return 0.5*((2*p1)+(-p0+p2)*t+(2*p0-5*p1+4*p2-p3)*t*t+(-p0+3*p1-3*p2+p3)*t*t*t); }
function gridv(g,gx,gy){
  var R=g.length, C=g[0].length;
  var ix=Math.floor(gx), iy=Math.floor(gy); var fx=gx-ix, fy=gy-iy;
  function at(r,c){ r=Math.max(0,Math.min(R-1,r)); c=Math.max(0,Math.min(C-1,c)); return g[r][c]; }
  var rows=[];
  for(var j=-1;j<3;j++){ rows.push(cr(at(iy+j,ix-1),at(iy+j,ix),at(iy+j,ix+1),at(iy+j,ix+2),fx)); }
  return cr(rows[0],rows[1],rows[2],rows[3],fy);
}
function pl(pts,y){ // linear interp of x on polyline by y; clamps
  if(y<=pts[0][1]) return pts[0][0];
  for(var i=1;i<pts.length;i++){ if(y<=pts[i][1]){ var a=pts[i-1],b=pts[i]; var f=(y-a[1])/((b[1]-a[1])||1); return a[0]+(b[0]-a[0])*f; } }
  return pts[pts.length-1][0];
}
function iv(tab,y){ // interp value table [[y,v],...]
  if(y<=tab[0][0]) return tab[0][1];
  for(var i=1;i<tab.length;i++){ if(y<=tab[i][0]){ var a=tab[i-1],b=tab[i]; var f=(y-a[0])/((b[0]-a[0])||1); return a[1]+(b[1]-a[1])*f; } }
  return tab[tab.length-1][1];
}
function sstep(e0,e1,x){ var t=Math.max(0,Math.min(1,(x-e0)/(e1-e0))); return t*t*(3-2*t); }
function render(p){
  var x0=p.x0, x1=p.x1, w=x1-x0, xc=(x0+x1)/2;
  for(var y=41;y<297;y++){ for(var x=Math.ceil(x0);x<x1;x++){
    var px=x+0.5, py=y+0.5;
    var k=(px-xc)/(w/4), E=(py-46.15)/44.75;
    var t, m2=1;
    if(E<-0.03){ t=0.022+0.028*sstep(41.8,44.6,py); }
    else {
      t=gridv(p.grid,(k+2)/0.5,E/0.5);
      for(var li=0;li<p.lams.length;li++){ var L=p.lams[li];
        if(py>=L.L[0][1]-L.s*2){
          var xl=pl(L.L,py), xr=pl(L.R,py), top=L.L[0][1]; var ss=L.st?iv(L.st,py):L.s;
          var m=sstep(-ss,ss,px-xl)*sstep(-ss,ss,xr-px)*sstep(top-L.s,top+L.s,py);
          if(L.bot) m*=1-sstep(L.bot[0],L.bot[1],py);
          t=t*(1-m)+iv(L.tv,py)*m;
        }
      }
      for(var i=0;i<p.blobs.length;i++){ var b=p.blobs[i];
        var dx=px-b[0], dy=py-b[1], c=Math.cos(b[4]||0), s=Math.sin(b[4]||0);
        var u=dx*c+dy*s, v=-dx*s+dy*c; t+=b[5]*Math.exp(-0.5*(u*u/(b[2]*b[2])+v*v/(b[3]*b[3]))); }
      for(var i=0;i<p.bands.length;i++){ var bd=p.bands[i];
        if(bd.h){ var xa=bd.p[0][0], xb=bd.p[bd.p.length-1][0]; if(px<xa||px>xb) continue;
          var q2=[]; for(var j=0;j<bd.p.length;j++) q2.push([bd.p[j][1],bd.p[j][0]]);
          var by=pl(q2,px); var a=bd.ap?iv(bd.ap,px):bd.a; var tp=Math.min(1,(px-xa)/(bd.tp||1),(xb-px)/(bd.tp||1));
          var d=py-by; var ww=(d<0&&bd.wu)?bd.wu:bd.w; t+=a*tp*Math.exp(-0.5*d*d/(ww*ww)); continue; }
        var y0=bd.p[0][1], y1=bd.p[bd.p.length-1][1];
        if(py<y0||py>y1) continue; var bx=pl(bd.p,py);
        var a = bd.ap ? iv(bd.ap,py) : bd.a;
        var tp=Math.min(1,(py-y0)/(bd.tp||1),(y1-py)/(bd.tp||1));
        var d=px-bx; t+=a*tp*Math.exp(-0.5*d*d/(bd.w*bd.w)); }
      // wedges
      var kl=Math.sqrt(Math.max(0,p.wl[0]-p.wl[1]*E)), kr=Math.sqrt(Math.max(0,p.wr[0]-p.wr[1]*E));
      var xl2=xc-kl*w/4, xr2=xc+kr*w/4;
      var m2=sstep(-1.2,1.8,px-xl2)*sstep(-1.2,1.8,xr2-px);
    }
    var c = t<0 ? [0,0,0] : cmap(t);
    if(t>=0 && m2<1){ c=[c[0]*m2,c[1]*m2,c[2]*m2]; }
    var q=(y*525+x)*4; D[q]=c[0];D[q+1]=c[1];D[q+2]=c[2];D[q+3]=255; } }
}
for(var i=0;i<P.length;i++) render(P[i]);
ctx.putImageData(img,0,0);

</script>
</body></html>
